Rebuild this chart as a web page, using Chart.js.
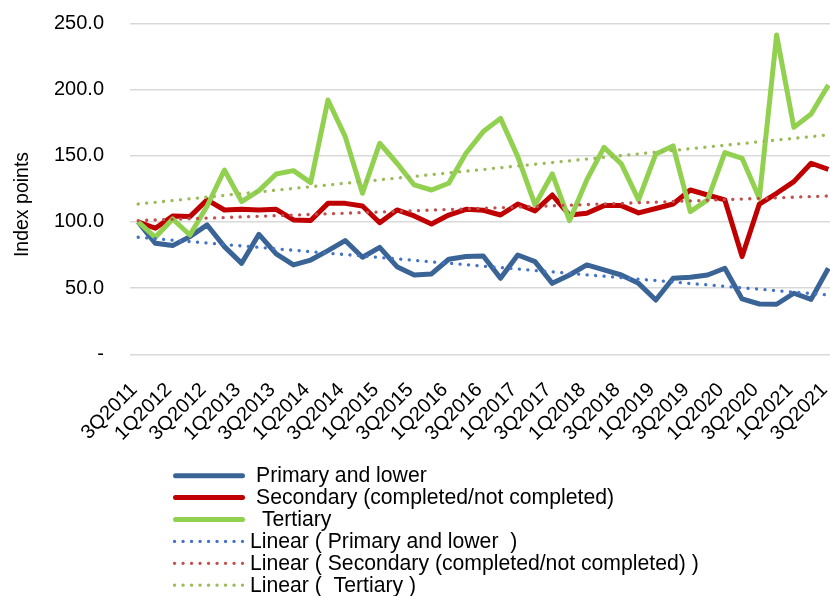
<!DOCTYPE html>
<html>
<head>
<meta charset="utf-8">
<script src="https://cdn.jsdelivr.net/npm/chart.js@4/dist/chart.umd.min.js"></script>
<style>
  html, body { margin: 0; padding: 0; background: #ffffff; overflow: hidden; }
  canvas { display: block; }
</style>
</head>
<body>
<canvas id="chart" width="840" height="596"></canvas>
<script>
// Quarters on the category axis
const quarters = [
  '3Q2011','4Q2011',
  '1Q2012','2Q2012','3Q2012','4Q2012',
  '1Q2013','2Q2013','3Q2013','4Q2013',
  '1Q2014','2Q2014','3Q2014','4Q2014',
  '1Q2015','2Q2015','3Q2015','4Q2015',
  '1Q2016','2Q2016','3Q2016','4Q2016',
  '1Q2017','2Q2017','3Q2017','4Q2017',
  '1Q2018','2Q2018','3Q2018','4Q2018',
  '1Q2019','2Q2019','3Q2019','4Q2019',
  '1Q2020','2Q2020','3Q2020','4Q2020',
  '1Q2021','2Q2021','3Q2021'
];

// Index values (3Q2011 = 100) by education level
const primary = [
  100.0, 83.8, 82.1, 88.9, 97.7, 81.3, 68.7, 90.6, 75.8, 67.5,
  71.2, 78.3, 85.9, 73.3, 80.8, 66.2, 59.9, 60.7, 71.8, 73.8,
  74.3, 57.4, 75.0, 70.0, 53.6, 59.9, 67.5, 63.7, 59.9, 53.6,
  41.0, 57.4, 58.2, 59.9, 65.0, 41.8, 38.0, 37.8, 46.1, 41.5,
  65.0
];
const secondary = [
  100.0, 95.2, 104.5, 104.0, 116.6, 109.0, 109.5, 109.0, 109.5, 101.5,
  101.0, 114.0, 114.0, 112.0, 99.4, 109.0, 104.5, 98.4, 105.2, 109.5,
  108.8, 105.2, 113.5, 108.3, 120.3, 105.2, 106.5, 112.3, 112.3, 106.8,
  110.1, 113.5, 124.1, 120.3, 116.6, 73.8, 113.5, 121.6, 130.4, 144.3,
  139.7
];
const tertiary = [
  100.0, 88.4, 102.2, 90.1, 112.0, 139.2, 115.3, 123.6, 136.2, 138.7,
  129.7, 192.1, 164.4, 121.6, 159.4, 144.3, 127.9, 124.1, 129.2, 151.8,
  168.2, 178.2, 149.3, 112.8, 136.2, 101.0, 131.7, 156.3, 143.8, 116.6,
  151.3, 157.4, 107.8, 116.6, 152.3, 148.0, 117.8, 241.2, 171.4, 181.5,
  203.4
];

// Linear trend lines: value at the first and at the last quarter
const trendPrimary = [88.4, 44.8];
const trendSecondary = [101.0, 119.6];
const trendTertiary = [113.5, 165.7];

// Value axis ticks
const yTicks = [0, 50, 100, 150, 200, 250];
const yTitle = 'Index points';

// Series names as shown in the legend
const seriesNames = [
  'Primary and lower',
  'Secondary (completed/not completed)',
  ' Tertiary',
  'Linear ( Primary and lower  )',
  'Linear ( Secondary (completed/not completed) )',
  'Linear (  Tertiary )'
];

const FONT = '"Liberation Sans", Arial, Helvetica, sans-serif';

// A trend line only has its two end values; the gap between is spanned.
function trendSeries(ends) {
  const arr = quarters.map(() => null);
  arr[0] = ends[0];
  arr[arr.length - 1] = ends[1];
  return arr;
}

function solid(label, data, color, order) {
  return {
    label, data, order,
    borderColor: color, backgroundColor: color,
    borderWidth: 5, borderJoinStyle: 'round', borderCapStyle: 'butt',
    pointRadius: 0, pointHoverRadius: 0, tension: 0, fill: false
  };
}
function dotted(label, data, color, order) {
  return {
    label, data, order,
    borderColor: color, backgroundColor: color,
    borderWidth: 3.3, borderDash: [0.1, 8.4], borderCapStyle: 'round',
    pointRadius: 0, pointHoverRadius: 0, tension: 0, fill: false, spanGaps: true
  };
}

// Value-axis title and a legend stacked in one column below the axis labels
const annotations = {
  id: 'annotations',
  afterDraw(chart) {
    const ctx = chart.ctx;

    ctx.save();
    ctx.fillStyle = '#000000';
    ctx.font = '19.5px ' + FONT;
    ctx.textAlign = 'center';
    ctx.textBaseline = 'alphabetic';
    ctx.translate(28, 204.5);
    ctx.rotate(-Math.PI / 2);
    ctx.fillText(yTitle, 0, 0);
    ctx.restore();

    const rowTop = 475.7, rowStep = 21.9;
    ctx.save();
    ctx.font = '21.2px ' + FONT;
    ctx.textBaseline = 'middle';
    ctx.textAlign = 'left';
    chart.data.datasets.forEach((ds, k) => {
      const y = rowTop + k * rowStep;
      ctx.save();
      ctx.strokeStyle = ds.borderColor;
      ctx.lineWidth = ds.borderWidth;
      ctx.lineCap = 'round';
      ctx.beginPath();
      let textX;
      if (ds.borderDash) {
        ctx.setLineDash(ds.borderDash);
        ctx.moveTo(174.5, y);
        ctx.lineTo(242.5, y);
        textX = 250;
      } else {
        ctx.moveTo(175.5, y);
        ctx.lineTo(242.5, y);
        textX = 256;
      }
      ctx.stroke();
      ctx.restore();
      ctx.fillStyle = '#000000';
      ctx.fillText(ds.label, textX, y + 0.5);
    });
    ctx.restore();
  }
};

new Chart(document.getElementById('chart'), {
  type: 'line',
  data: {
    labels: quarters,
    datasets: [
      solid(seriesNames[0], primary, '#3A6496', 6),
      solid(seriesNames[1], secondary, '#C00000', 5),
      solid(seriesNames[2], tertiary, '#92D050', 4),
      dotted(seriesNames[3], trendSeries(trendPrimary), '#4472C4', 3),
      dotted(seriesNames[4], trendSeries(trendSecondary), '#C0504D', 2),
      dotted(seriesNames[5], trendSeries(trendTertiary), '#9BBB59', 1)
    ]
  },
  options: {
    responsive: false,
    devicePixelRatio: 1,
    animation: false,
    events: [],
    layout: { padding: { top: 23.3, right: 3, bottom: 153.7, left: 0 } },
    plugins: {
      legend: { display: false },
      tooltip: { enabled: false }
    },
    scales: {
      x: {
        type: 'category',
        offset: true,
        grid: { display: false, drawTicks: false },
        border: { display: false },
        ticks: {
          autoSkip: false,
          maxRotation: 45,
          minRotation: 45,
          padding: 24,
          labelOffset: -4,
          color: '#000000',
          font: { family: FONT, size: 20 },
          callback: function (value, index) {
            return index % 2 === 0 ? quarters[index] : '';
          }
        },
        afterFit: function (scale) {
          scale.height = 88;
          scale.paddingLeft = 0;
          scale.paddingRight = 0;
        }
      },
      y: {
        min: 0,
        max: 250,
        afterBuildTicks: function (scale) {
          scale.ticks = yTicks.map(v => ({ value: v }));
        },
        grid: { color: '#D9D9D9', lineWidth: 1.5, drawTicks: false },
        border: { display: false },
        ticks: {
          padding: 25.5,
          color: '#000000',
          font: { family: FONT, size: 20 },
          callback: function (value) {
            return value === 0 ? '-' : Number(value).toFixed(1);
          }
        },
        title: { display: false },
        afterFit: function (scale) {
          scale.width = 129.5;
          scale.paddingTop = 0;
          scale.paddingBottom = 0;
        }
      }
    }
  },
  plugins: [annotations]
});
</script>
</body>
</html>
